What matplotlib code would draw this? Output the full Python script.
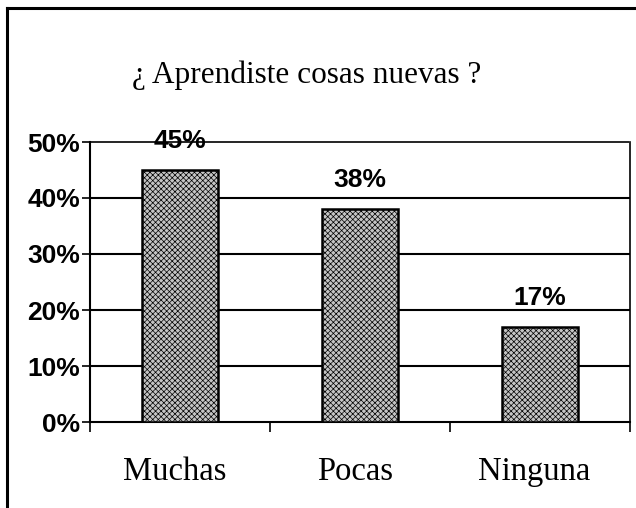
import matplotlib
matplotlib.use("Agg")
import matplotlib.pyplot as plt
from matplotlib.lines import Line2D

categories = ["Muchas", "Pocas", "Ninguna"]
values = [45, 38, 17]
value_labels = ["45%", "38%", "17%"]
yticks = [0, 10, 20, 30, 40, 50]
ytick_labels = ["0%", "10%", "20%", "30%", "40%", "50%"]
title = "¿ Aprendiste cosas nuevas ?"

plt.rcParams['hatch.linewidth'] = 0.5
plt.rcParams['hatch.color'] = '#333333'
fig = plt.figure(figsize=(6.36, 5.08), dpi=100)
ax = fig.add_axes([90/636, 1 - 422/508, 540/636, 280/508])

x = list(range(len(categories)))
ax.bar(x, values, width=0.42, color="#c4c4c4", edgecolor="black", linewidth=1.8,
       hatch="xxxxxx", zorder=3)
ax.set_xlim(-0.5, len(categories) - 0.5)
ax.set_ylim(0, 50)
for yv in yticks[1:-1]:
    ax.axhline(yv, color="black", linewidth=1.5, zorder=1)

ax.set_yticks(yticks)
ax.set_yticklabels(ytick_labels, fontfamily="Liberation Sans", fontweight="bold", fontsize=19)
ax.set_xticks([i - 0.5 for i in range(len(categories) + 1)])
ax.set_xticklabels([])
ax.tick_params(axis="x", direction="out", length=7, width=1.2)
ax.tick_params(axis="y", direction="out", length=6, width=1.2, pad=1)
for i, c in enumerate(categories):
    ax.text(i - 0.03, -8.9, c, ha="center", va="center", fontfamily="Liberation Serif",
            fontsize=23.5)

for i, (v, lab) in enumerate(zip(values, value_labels)):
    ax.text(i, v + 5.2, lab, ha="center", va="center", fontfamily="Liberation Sans",
            fontweight="bold", fontsize=19, zorder=4)

ax.spines["left"].set_linewidth(1.5)
ax.spines["bottom"].set_linewidth(1.5)
ax.spines["top"].set_linestyle((0, (1, 1)))
ax.spines["right"].set_linestyle((0, (1, 1)))
ax.spines["top"].set_linewidth(1.2)
ax.spines["right"].set_linewidth(1.2)

fig.text(307/636, 1 - 75/508, title, ha="center", va="center",
         fontfamily="Liberation Serif", fontsize=22.5)

# outer frame (left and top edges visible)
fig.add_artist(Line2D([7/636, 7/636], [0, 1 - 8/508], color="black", linewidth=2.2,
                      transform=fig.transFigure))
fig.add_artist(Line2D([7/636, 1], [1 - 8/508, 1 - 8/508], color="black", linewidth=2.2,
                      transform=fig.transFigure))

fig.savefig("out.png", dpi=100)
